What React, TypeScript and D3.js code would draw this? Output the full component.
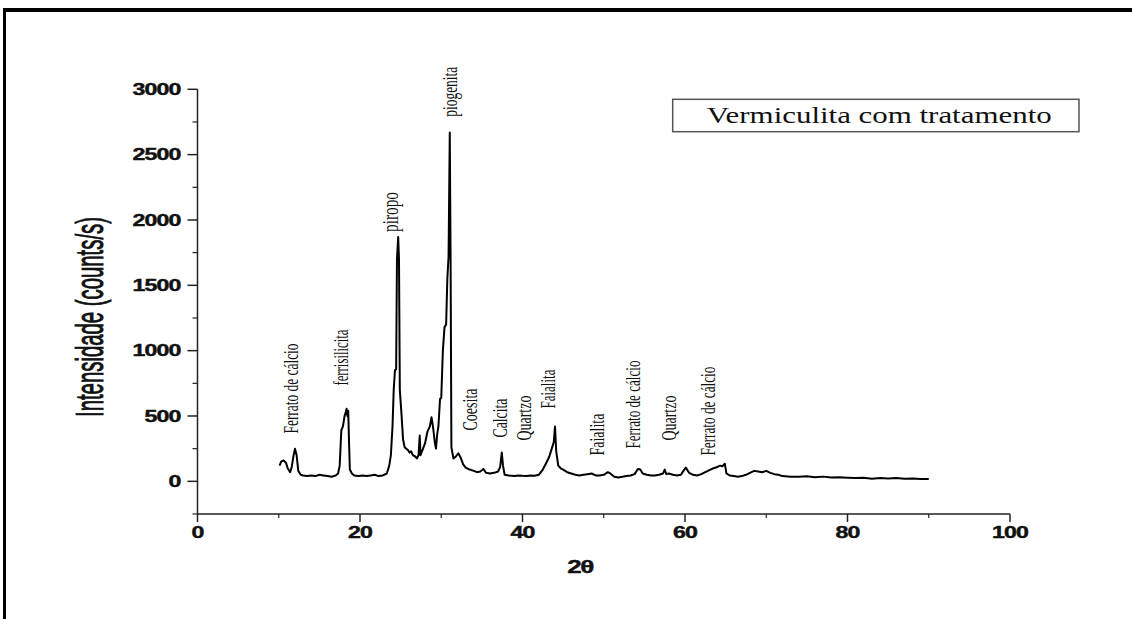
import React from "react";
import * as d3 from "d3";

const twoTheta = [
  10.1, 10.3, 10.6, 10.9, 11.1, 11.4, 11.6, 11.8, 12.0, 12.2, 12.4, 12.7, 13.0, 13.5, 14.0, 14.5, 15.0, 15.5, 16.0, 16.5,
  17.0, 17.3, 17.5, 17.7, 17.9, 18.1, 18.25, 18.35, 18.45, 18.55, 18.65, 18.75, 19.0, 19.3, 19.8, 20.3, 20.8, 21.3, 21.8, 22.3,
  22.8, 23.3, 23.6, 23.8, 24.0, 24.15, 24.3, 24.45, 24.55, 24.7, 24.8, 24.9, 25.1, 25.3, 25.5, 25.7, 25.9, 26.1, 26.3, 26.5,
  26.8, 27.0, 27.2, 27.35, 27.45, 27.7, 28.0, 28.3, 28.6, 28.8, 29.0, 29.2, 29.35, 29.5, 29.65, 29.85, 30.0, 30.2, 30.4, 30.6,
  30.75, 30.9, 31.05, 31.15, 31.25, 31.5, 31.8, 32.1, 32.4, 32.7, 33.0, 33.5, 34.0, 34.4, 34.8, 35.2, 35.5, 36.0, 36.5, 37.0,
  37.25, 37.45, 37.6, 37.8, 38.3, 39.0, 39.5, 40.0, 40.5, 41.0, 41.5, 42.0, 42.5, 43.0, 43.3, 43.6, 43.85, 44.0, 44.15, 44.4,
  44.7, 45.0, 45.5, 46.0, 46.5, 47.0, 47.5, 48.0, 48.5, 49.0, 49.5, 50.0, 50.5, 50.8, 51.3, 51.8, 52.3, 52.8, 53.3, 53.8,
  54.2, 54.5, 54.8, 55.3, 55.8, 56.3, 56.8, 57.3, 57.5, 57.7, 58.0, 58.5, 59.0, 59.5, 59.8, 60.1, 60.5, 61.0, 61.5, 62.0,
  62.5, 63.0, 63.5, 64.0, 64.3, 64.6, 64.9, 65.1, 65.5, 66.0, 66.5, 67.0, 67.5, 68.0, 68.5, 69.0, 69.5, 70.0, 70.5, 71.0,
  71.5, 72.0, 73.0, 74.0, 75.0, 76.0, 77.0, 78.0, 79.0, 80.0, 81.0, 82.0, 83.0, 84.0, 85.0, 86.0, 87.0, 88.0, 89.0, 90.0,
];
const intensity = [
  120, 150, 160, 140, 100, 70, 110, 190, 250, 200, 80, 50, 45, 40, 45, 40, 50, 45, 40, 35,
  45, 60, 120, 390, 420, 500, 530, 555, 500, 540, 300, 90, 60, 45, 40, 45, 40, 45, 50, 40,
  45, 60, 120, 200, 420, 700, 850, 860, 1700, 1870, 1700, 700, 520, 320, 260, 250, 240, 220, 230, 200,
  190, 175, 200, 350, 200, 240, 290, 380, 420, 490, 410, 300, 250, 360, 420, 630, 640, 1000, 1180, 1200,
  1550, 1720, 2670, 1700, 260, 175, 190, 215, 180, 130, 105, 90, 80, 70, 75, 95, 65, 60, 65, 75,
  110, 220, 120, 50, 45, 40, 45, 42, 40, 45, 42, 50, 90, 150, 190, 250, 300, 420, 230, 120,
  100, 90, 70, 60, 50, 45, 50, 55, 60, 45, 45, 50, 70, 60, 35, 30, 35, 40, 45, 55,
  95, 90, 60, 50, 45, 45, 50, 60, 90, 55, 60, 50, 45, 50, 80, 105, 65, 50, 45, 55,
  70, 85, 100, 110, 120, 115, 135, 60, 45, 40, 35, 40, 50, 65, 80, 75, 70, 80, 65, 55,
  50, 40, 35, 35, 38, 32, 36, 30, 32, 28, 25, 28, 20, 25, 22, 25, 20, 22, 18, 18,
];

const xTicks = [0, 20, 40, 60, 80, 100];
const xMinorTicks = [10, 30, 50, 70, 90];
const yTicks = [0, 500, 1000, 1500, 2000, 2500, 3000];
const yMinorTicks = [-250, 250, 750, 1250, 1750, 2250, 2750];

const annotationLabels = [
  "Ferrato de cálcio", "ferrisilicita", "piropo", "piogenita", "Coesita", "Calcita",
  "Quartzo", "Faialita", "Faialita", "Ferrato de cálcio", "Quartzo", "Ferrato de cálcio",
];
const annotationTheta = [12.37, 18.52, 24.65, 31.88, 34.36, 38.09, 41.05, 44.0, 50.03, 54.46, 58.89, 63.69];
const annotationLevel = [366, 733, 1908, 2790, 389, 335, 312, 557, 197, 251, 312, 197];
const annotationLength = [90, 56, 40, 50, 42, 39, 45, 39, 42, 88, 45, 89];

const legendLabel = "Vermiculita com tratamento";
const xTitle = "2θ";
const yTitle = "Intensidade (counts/s)";

export default function App() {
  const W = 1132;
  const H = 619;
  const x = d3.scaleLinear().domain([0, 100]).range([197.5, 1010]);
  const y = d3.scaleLinear().domain([-250, 3000]).range([514, 89.3]);
  const pts = twoTheta.map((t, i) => [t, intensity[i]] as [number, number]);
  const line = d3
    .line<[number, number]>()
    .x((d) => x(d[0]))
    .y((d) => y(d[1]));
  const axisY = y(-250);
  const axisX = x(0);
  const sans = "'Liberation Sans', Arial, sans-serif";
  const serif = "'Liberation Serif', 'Times New Roman', serif";

  return (
    <svg
      width={W}
      height={H}
      style={{ position: "absolute", left: 0, top: 0, background: "#fff" }}
    >
      {/* frame */}
      <line x1={3} x2={W} y1={10} y2={10} stroke="#000" strokeWidth={4} />
      <line x1={4.5} x2={4.5} y1={8} y2={H} stroke="#000" strokeWidth={3} />

      {/* axes */}
      <line x1={axisX} x2={axisX} y1={y(3000)} y2={axisY} stroke="#222" strokeWidth={1.5} />
      <line x1={axisX} x2={x(100)} y1={axisY} y2={axisY} stroke="#222" strokeWidth={1.5} />
      {yTicks.map((t) => (
        <g key={"yt" + t}>
          <line x1={axisX - 10} x2={axisX} y1={y(t)} y2={y(t)} stroke="#222" strokeWidth={1.5} />
          <text
            transform={`translate(${axisX - 17},${y(t) + 5.8}) scale(1.45,1)`}
            textAnchor="end"
            fontFamily={sans}
            fontWeight="bold"
            fontSize={16}
            letterSpacing={-0.6}
            stroke="#111"
            strokeWidth={0.4}
            fill="#111"
          >
            {t}
          </text>
        </g>
      ))}
      {yMinorTicks.map((t) => (
        <line key={"ym" + t} x1={axisX - 5} x2={axisX} y1={y(t)} y2={y(t)} stroke="#222" strokeWidth={1.2} />
      ))}
      {xTicks.map((t) => (
        <g key={"xt" + t}>
          <line x1={x(t)} x2={x(t)} y1={axisY} y2={axisY + 8} stroke="#222" strokeWidth={1.5} />
          <text
            transform={`translate(${x(t)},${axisY + 24}) scale(1.45,1)`}
            textAnchor="middle"
            fontFamily={sans}
            fontWeight="bold"
            fontSize={16}
            letterSpacing={-0.6}
            stroke="#111"
            strokeWidth={0.4}
            fill="#111"
          >
            {t}
          </text>
        </g>
      ))}
      {xMinorTicks.map((t) => (
        <line key={"xm" + t} x1={x(t)} x2={x(t)} y1={axisY} y2={axisY + 4} stroke="#222" strokeWidth={1.2} />
      ))}

      {/* axis titles */}
      <text
        transform={`translate(580,573) scale(1.45,1)`}
        textAnchor="middle"
        fontFamily={sans}
        fontWeight="bold"
        fontSize={18}
        letterSpacing={-1}
        stroke="#111"
        strokeWidth={0.4}
        fill="#111"
      >
        {xTitle}
      </text>
      <text
        transform={`translate(103,317) scale(1.9,1) rotate(-90)`}
        textAnchor="middle"
        fontFamily={sans}
        fontSize={20.3}
        textLength={200}
        lengthAdjust="spacingAndGlyphs"
        stroke="#111"
        strokeWidth={0.5}
        fill="#111"
      >
        {yTitle}
      </text>

      {/* data */}
      <path d={line(pts) || ""} fill="none" stroke="#000" strokeWidth={2} strokeLinejoin="round" />

      {/* peak annotations */}
      {annotationLabels.map((lab, i) => (
        <text
          key={"an" + i}
          transform={`translate(${x(annotationTheta[i])},${y(annotationLevel[i])}) scale(1.55,1) rotate(-90)`}
          fontFamily={serif}
          fontSize={i === 2 ? 15 : 13.5}
          textLength={annotationLength[i]}
          lengthAdjust="spacingAndGlyphs"
          fill="#111"
        >
          {lab}
        </text>
      ))}

      {/* legend */}
      <rect x={672.7} y={99.3} width={406.3} height={32.4} fill="#fff" stroke="#555" strokeWidth={1.5} />
      <text
        x={706.7}
        y={122.7}
        fontFamily={serif}
        fontSize={24}
        textLength={345}
        lengthAdjust="spacingAndGlyphs"
        fill="#111"
      >
        {legendLabel}
      </text>
    </svg>
  );
}
